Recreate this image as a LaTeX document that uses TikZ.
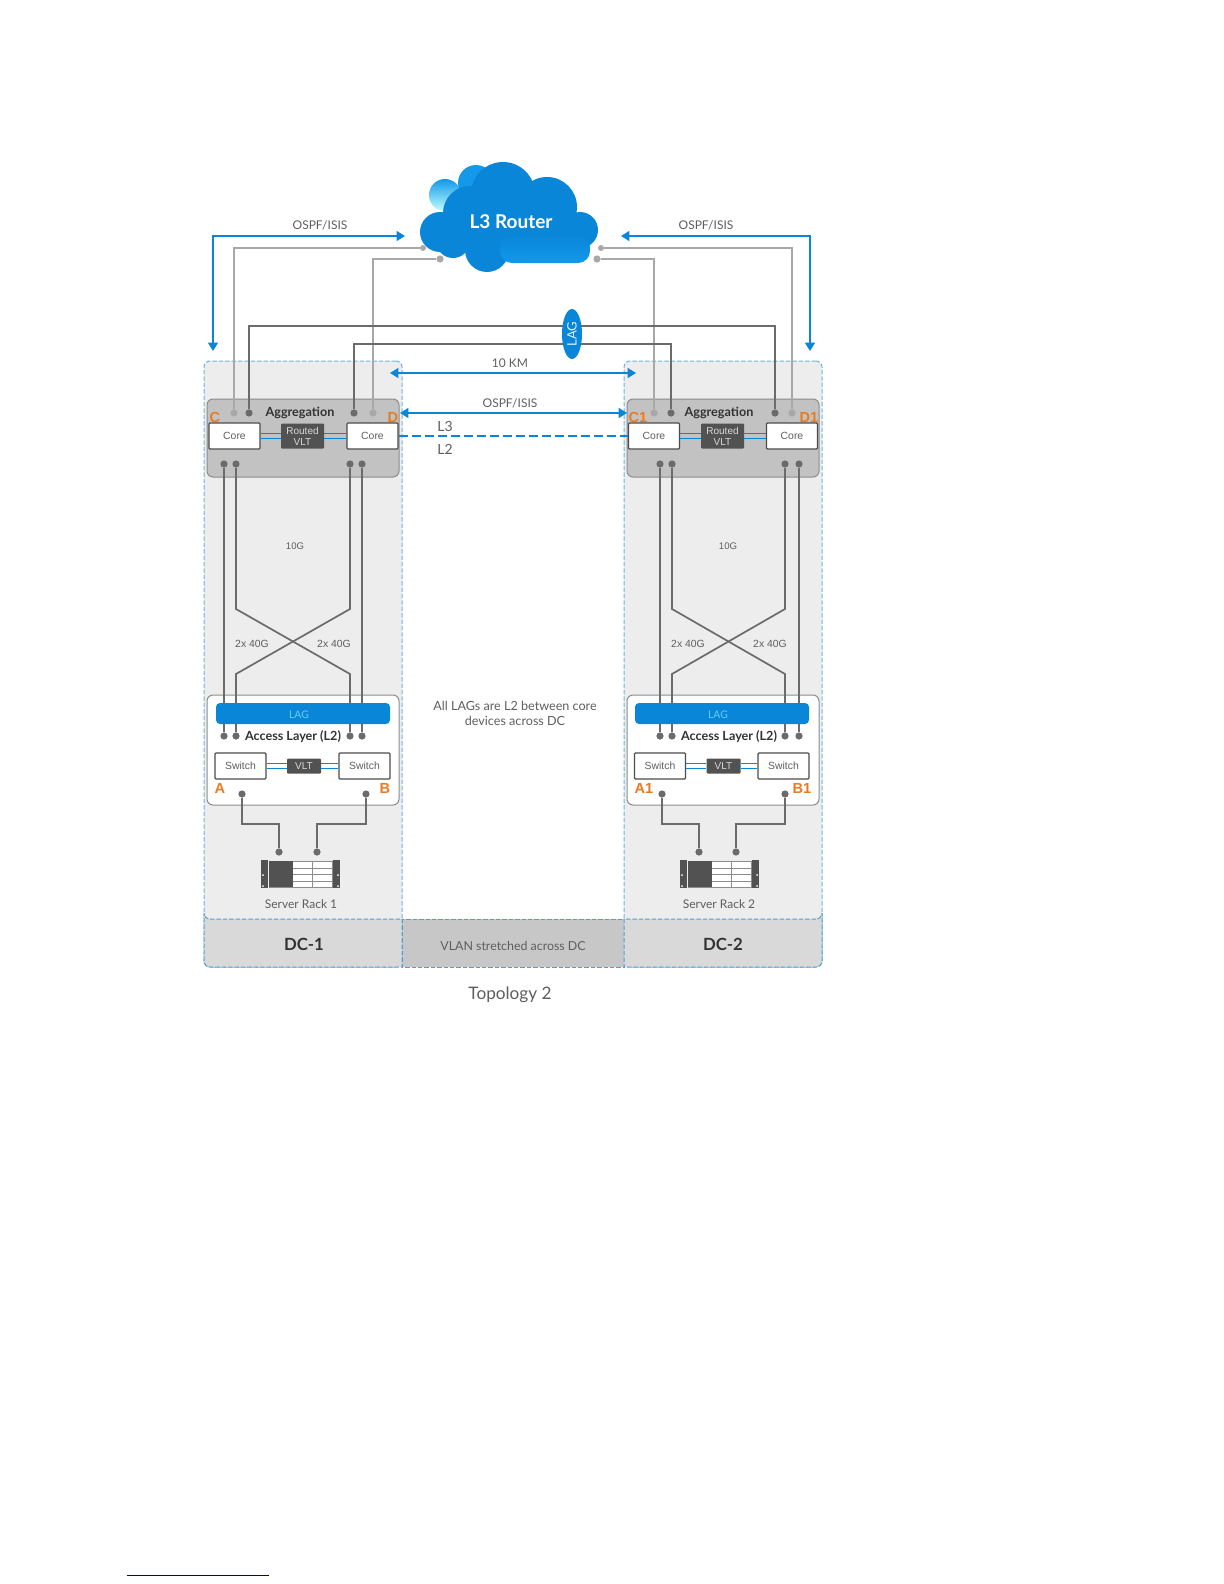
\documentclass[tikz,border=0pt]{standalone}
\usepackage{fontspec}
\setmainfont{Lato}
\setsansfont{Liberation Sans}
\usetikzlibrary{arrows.meta,shapes.geometric}
\definecolor{dellblue}{HTML}{0A86D9}
\definecolor{lightblue}{HTML}{1398EA}
\definecolor{wiredark}{HTML}{6B6B6B}
\definecolor{wiregray}{HTML}{A8A8A8}
\definecolor{txtgray}{HTML}{5E5E5E}
\definecolor{dashblue}{HTML}{6DB6DA}
\definecolor{banddash}{HTML}{4F9FD2}
\definecolor{markorange}{HTML}{E97B22}
\tikzset{
    panelbox/.style={draw=dashblue,fill=black!7,dash pattern=on 2.2pt off 1pt,line width=0.5pt,rounded corners=3pt,minimum width=99pt,minimum height=303pt,inner sep=0pt},
    bandbox/.style={draw=banddash,dash pattern=on 2.2pt off 1pt,line width=0.5pt},
    aggbox/.style={draw=black!45,fill=black!24,line width=0.5pt,rounded corners=3pt,minimum width=96pt,minimum height=39pt,inner sep=0pt},
    accessbox/.style={draw=black!45,fill=white,line width=0.5pt,rounded corners=3pt,minimum width=96pt,minimum height=55pt,inner sep=0pt},
    corebox/.style={draw=black!70,fill=white,line width=0.6pt,rounded corners=0.5pt,minimum width=25.5pt,minimum height=13pt,inner sep=0pt,text=txtgray,font=\sffamily\fontsize{5.2}{6}\selectfont},
    vltbox/.style={fill=black!68,rounded corners=0.5pt,inner sep=0pt,align=center,text=white!85!black,font=\sffamily\fontsize{5}{5.6}\selectfont},
    lagbar/.style={fill=dellblue,rounded corners=2pt,minimum width=87pt,minimum height=10.5pt,inner sep=0pt},
    laglbl/.style={text=cyan!60!white,inner sep=0pt,font=\fontsize{5.2}{6}\selectfont},
    dotdark/.style={circle,fill=wiredark,minimum size=3.6pt,inner sep=0pt},
    dotgray/.style={circle,fill=wiregray,minimum size=3.6pt,inner sep=0pt},
    wiredk/.style={draw=wiredark,line width=0.85pt},
    wirelag/.style={draw=wiredark,line width=0.6pt},
    wirelt/.style={draw=wiregray,line width=0.55pt},
    vltlink/.style={draw=dellblue,line width=0.5pt},
    bluearrow/.style={draw=dellblue,line width=0.75pt,{Triangle[length=4.2pt,width=5pt]}-{Triangle[length=4.2pt,width=5pt]}},
    lbl/.style={text=txtgray,inner sep=0pt,font=\fontsize{6}{7}\selectfont},
    smalllbl/.style={text=txtgray,inner sep=0pt,font=\sffamily\fontsize{5.2}{6}\selectfont},
    headlbl/.style={text=black!80,inner sep=0pt,font=\bfseries\fontsize{6.3}{7}\selectfont},
    orangelbl/.style={text=markorange,inner sep=0pt,font=\sffamily\bfseries\fontsize{7.3}{8}\selectfont},
}
\newcommand{\serverrack}[1]{
    \fill[black!68] (#1,860) rectangle (#1+7,888);
    \fill[black!68] (#1+72,860) rectangle (#1+79,888);
    \fill[white] (#1+2,875) circle (0.5pt);
    \fill[white] (#1+2,886) circle (0.5pt);
    \fill[white] (#1+77,875) circle (0.5pt);
    \fill[white] (#1+77,886) circle (0.5pt);
    \draw[black!45,fill=white,line width=0.4pt] (#1+8,861) rectangle (#1+71,887);
    \fill[black!68] (#1+8,861) rectangle (#1+32,887);
    \draw[black!45,line width=0.4pt] (#1+32,868) -- (#1+71,868);
    \draw[black!45,line width=0.4pt] (#1+32,874.5) -- (#1+71,874.5);
    \draw[black!45,line width=0.4pt] (#1+32,881) -- (#1+71,881);
    \draw[black!45,line width=0.4pt] (#1+51,861) -- (#1+51,887);
}
\begin{document}
\begin{tikzpicture}[x=0.5pt,y=-0.5pt]
    \useasboundingbox (0,0) rectangle (1224,1584);

    \node[panelbox] (dcone) at (303,664) {};
    \node[panelbox] (dctwo) at (723,664) {};
    \draw[bandbox,fill=black!22] (402,919) rectangle (624,967);
    \draw[bandbox,fill=black!15] (204,919) -- (402,919) -- (402,967) [rounded corners=3pt] -- (204,967) -- (204,919) -- cycle;
    \draw[bandbox,fill=black!15] (822,919) -- (624,919) -- (624,967) [rounded corners=3pt] -- (822,967) -- (822,919) -- cycle;
    \node[headlbl,font=\bfseries\fontsize{8.4}{9}\selectfont] (dconelbl) at (304,944) {DC-1};
    \node[headlbl,font=\bfseries\fontsize{8.4}{9}\selectfont] (dctwolbl) at (723,944) {DC-2};
    \node[lbl,font=\fontsize{6.2}{7}\selectfont] (vlan) at (513,946) {VLAN stretched across DC};
    \node[lbl,font=\fontsize{8.6}{9}\selectfont] (topo) at (510,995) {Topology 2};

    \node[aggbox] (aggone) at (303,438) {};
    \node[aggbox] (aggtwo) at (723,438) {};
    \node[accessbox] (accone) at (303,750) {};
    \node[accessbox] (acctwo) at (723,750) {};

    % cloud
    \shade[top color=lightblue,bottom color=cyan!25!white] (445,195) circle (16);
    \fill[lightblue] (476,183) circle (18);
    \fill[dellblue] (503,194) circle (32);
    \fill[dellblue] (547,207) circle (30);
    \fill[dellblue] (470,213) circle (27);
    \fill[dellblue] (440,232) circle (20);
    \fill[dellblue] (453,241) circle (17);
    \fill[dellblue] (487,250) circle (22);
    \fill[dellblue] (580,230) circle (18);
    \fill[dellblue] (450,210) rectangle (570,250);
    \shade[top color=dellblue,bottom color=lightblue,rounded corners=6pt] (500,235) rectangle (590,263);
    \node[text=white,inner sep=0pt,font=\bfseries\fontsize{9.5}{10}\selectfont] (router) at (511,222) {L3 Router};

    \node[dotgray,minimum size=3pt] (rtc) at (423,248) {};
    \node[dotgray] (rtd) at (440,259) {};
    \node[dotgray,minimum size=3pt] (rtdone) at (601,248) {};
    \node[dotgray] (rtcone) at (597,259) {};

    \node[dotgray] (agc) at (234,413) {};
    \node[dotdark] (agcd) at (249,413) {};
    \node[dotdark] (agdd) at (354,413) {};
    \node[dotgray] (agd) at (373,413) {};
    \node[dotgray] (agcone) at (654,413) {};
    \node[dotdark] (agconed) at (671,413) {};
    \node[dotdark] (agdoned) at (775,413) {};
    \node[dotgray] (agdone) at (792,413) {};

    \draw[wirelt] (rtc) -| (agc);
    \draw[wirelt] (rtd) -| (agd);
    \draw[wirelt] (rtdone) -| (agdone);
    \draw[wirelt] (rtcone) -| (agcone);

    \coordinate (lagtop) at (572,326);
    \coordinate (lagbot) at (572,344);
    \draw[wirelag] (agcd) |- (lagtop) -| (agdoned);
    \draw[wirelag] (agdd) |- (lagbot) -| (agconed);
    \node[ellipse,fill=dellblue,minimum width=10pt,minimum height=25pt,inner sep=0pt] (lagoval) at (572,334) {};
    \node[rotate=90,text=white!85!cyan,inner sep=0pt,font=\fontsize{6.5}{7}\selectfont] (laglbl) at (572,334) {LAG};

    \node[corebox] (corec) at (234.5,436) {Core};
    \node[corebox] (cored) at (372.5,436) {Core};
    \node[corebox] (corecone) at (654,436) {Core};
    \node[corebox] (coredone) at (792,436) {Core};
    \node[vltbox,minimum width=21.5pt,minimum height=12.5pt] (rvltone) at (302.5,436) {Routed\\VLT};
    \node[vltbox,minimum width=21.5pt,minimum height=12.5pt] (rvlttwo) at (722.5,436) {Routed\\VLT};
    \draw[vltlink] ([yshift=1.2pt]corec.east) -- ([yshift=1.2pt]rvltone.west);
    \draw[vltlink] ([yshift=-1.2pt]corec.east) -- ([yshift=-1.2pt]rvltone.west);
    \draw[vltlink] ([yshift=1.2pt]rvltone.east) -- ([yshift=1.2pt]cored.west);
    \draw[vltlink] ([yshift=-1.2pt]rvltone.east) -- ([yshift=-1.2pt]cored.west);
    \draw[vltlink] ([yshift=1.2pt]corecone.east) -- ([yshift=1.2pt]rvlttwo.west);
    \draw[vltlink] ([yshift=-1.2pt]corecone.east) -- ([yshift=-1.2pt]rvlttwo.west);
    \draw[vltlink] ([yshift=1.2pt]rvlttwo.east) -- ([yshift=1.2pt]coredone.west);
    \draw[vltlink] ([yshift=-1.2pt]rvlttwo.east) -- ([yshift=-1.2pt]coredone.west);
    \node[headlbl] (aggonelbl) at (300,413) {Aggregation};
    \node[headlbl] (aggtwolbl) at (719,413) {Aggregation};
    \node[orangelbl] (lblc) at (215,417) {C};
    \node[orangelbl] (lbld) at (393,417) {D};
    \node[orangelbl] (lblcone) at (638,417) {C1};
    \node[orangelbl] (lbldone) at (809,417) {D1};

    \coordinate (ospflt) at (213,236);
    \coordinate (ospfltend) at (405,236);
    \coordinate (ospfltdown) at (213,351);
    \coordinate (ospfrt) at (810,236);
    \coordinate (ospfrtend) at (621,236);
    \coordinate (ospfrtdown) at (810,351);
    \draw[bluearrow] (ospfltend) -- (ospflt) -- (ospfltdown);
    \draw[bluearrow] (ospfrtend) -- (ospfrt) -- (ospfrtdown);
    \node[lbl] (ospfone) at (320,225) {OSPF/ISIS};
    \node[lbl] (ospftwo) at (706,225) {OSPF/ISIS};
    \coordinate (kmleft) at (390,373);
    \coordinate (kmright) at (636,373);
    \draw[bluearrow] (kmleft) -- (kmright);
    \node[lbl] (kmlbl) at (510,363) {10 KM};
    \coordinate (ospfmidl) at (400,413);
    \coordinate (ospfmidr) at (627,413);
    \draw[bluearrow] (ospfmidl) -- (ospfmidr);
    \node[lbl] (ospfmid) at (510,403) {OSPF/ISIS};
    \draw[draw=dellblue,line width=0.8pt,dash pattern=on 4.5pt off 2pt] (cored) -- (corecone);
    \node[lbl,font=\fontsize{7}{8}\selectfont] (lthree) at (445,426) {L3};
    \node[lbl,font=\fontsize{7}{8}\selectfont] (ltwo) at (445,449) {L2};

    \node[dotdark] (lowa) at (224,464) {};
    \node[dotdark] (lowb) at (236,464) {};
    \node[dotdark] (lowc) at (350,464) {};
    \node[dotdark] (lowd) at (362,464) {};
    \node[dotdark] (lowe) at (660,464) {};
    \node[dotdark] (lowf) at (672,464) {};
    \node[dotdark] (lowg) at (785,464) {};
    \node[dotdark] (lowh) at (799,464) {};
    \node[dotdark] (acca) at (224,736) {};
    \node[dotdark] (accb) at (236,736) {};
    \node[dotdark] (accc) at (350,736) {};
    \node[dotdark] (accd) at (362,736) {};
    \node[dotdark] (acce) at (660,736) {};
    \node[dotdark] (accf) at (672,736) {};
    \node[dotdark] (accg) at (785,736) {};
    \node[dotdark] (acch) at (799,736) {};

    \draw[wiredk] (lowa) -- (acca);
    \draw[wiredk] (lowd) -- (accd);
    \draw[wiredk] (lowb) -- (236,609) -- (350,674) -- (accc);
    \draw[wiredk] (lowc) -- (350,609) -- (236,674) -- (accb);
    \draw[wiredk] (lowe) -- (acce);
    \draw[wiredk] (lowh) -- (acch);
    \draw[wiredk] (lowf) -- (672,609) -- (785,674) -- (accg);
    \draw[wiredk] (lowg) -- (785,609) -- (672,674) -- (accf);

    \node[smalllbl,font=\sffamily\fontsize{4.8}{6}\selectfont] (tengone) at (295,546) {10G};
    \node[smalllbl,font=\sffamily\fontsize{4.8}{6}\selectfont] (tengtwo) at (728,546) {10G};
    \node[smalllbl] (fortya) at (252,644) {2x 40G};
    \node[smalllbl] (fortyb) at (334,644) {2x 40G};
    \node[smalllbl] (fortyc) at (688,644) {2x 40G};
    \node[smalllbl] (fortyd) at (770,644) {2x 40G};

    \node[lagbar] (lagone) at (303,713.5) {};
    \node[lagbar] (lagtwo) at (722,713.5) {};
    \node[laglbl] (lagonelbl) at (299,715) {LAG};
    \node[laglbl] (lagtwolbl) at (718,715) {LAG};
    \node[headlbl] (accessone) at (293,737) {Access Layer (L2)};
    \node[headlbl] (accesstwo) at (729,737) {Access Layer (L2)};

    \node[corebox] (switcha) at (240.5,766) {Switch};
    \node[corebox] (switchb) at (364.5,766) {Switch};
    \node[corebox] (switchaone) at (660,766) {Switch};
    \node[corebox] (switchbone) at (783.5,766) {Switch};
    \node[vltbox,minimum width=17pt,minimum height=7.5pt] (vltone) at (304,766) {VLT};
    \node[vltbox,minimum width=17pt,minimum height=7.5pt] (vlttwo) at (723.5,766) {VLT};
    \draw[vltlink] ([yshift=1.2pt]switcha.east) -- ([yshift=1.2pt]vltone.west);
    \draw[vltlink] ([yshift=-1.2pt]switcha.east) -- ([yshift=-1.2pt]vltone.west);
    \draw[vltlink] ([yshift=1.2pt]vltone.east) -- ([yshift=1.2pt]switchb.west);
    \draw[vltlink] ([yshift=-1.2pt]vltone.east) -- ([yshift=-1.2pt]switchb.west);
    \draw[vltlink] ([yshift=1.2pt]switchaone.east) -- ([yshift=1.2pt]vlttwo.west);
    \draw[vltlink] ([yshift=-1.2pt]switchaone.east) -- ([yshift=-1.2pt]vlttwo.west);
    \draw[vltlink] ([yshift=1.2pt]vlttwo.east) -- ([yshift=1.2pt]switchbone.west);
    \draw[vltlink] ([yshift=-1.2pt]vlttwo.east) -- ([yshift=-1.2pt]switchbone.west);
    \node[orangelbl] (lbla) at (220,788) {A};
    \node[orangelbl] (lblb) at (385,788) {B};
    \node[orangelbl] (lblaone) at (644,788) {A1};
    \node[orangelbl] (lblbone) at (802,788) {B1};

    \node[dotdark] (swa) at (242,794) {};
    \node[dotdark] (swb) at (366,794) {};
    \node[dotdark] (swc) at (662,794) {};
    \node[dotdark] (swd) at (785,794) {};
    \node[dotdark] (rka) at (279,852) {};
    \node[dotdark] (rkb) at (317,852) {};
    \node[dotdark] (rkc) at (699,852) {};
    \node[dotdark] (rkd) at (736,852) {};
    \draw[wiredk] (swa) |- (260,824) -| (rka);
    \draw[wiredk] (swb) |- (340,824) -| (rkb);
    \draw[wiredk] (swc) |- (680,824) -| (rkc);
    \draw[wiredk] (swd) |- (760,824) -| (rkd);

    \serverrack{261}
    \serverrack{680}
    \node[lbl] (rackone) at (301,904) {Server Rack 1};
    \node[lbl] (racktwo) at (719,904) {Server Rack 2};

    \node[lbl,align=center,font=\fontsize{6.3}{7.5}\selectfont] (allnote) at (515,713.5) {All LAGs are L2 between core\\devices across DC};

    \coordinate (footl) at (127,1575);
    \coordinate (footr) at (269,1575);
    \draw[draw=blue!55!black,line width=0.5pt] (footl) -- (footr);
\end{tikzpicture}
\end{document}
